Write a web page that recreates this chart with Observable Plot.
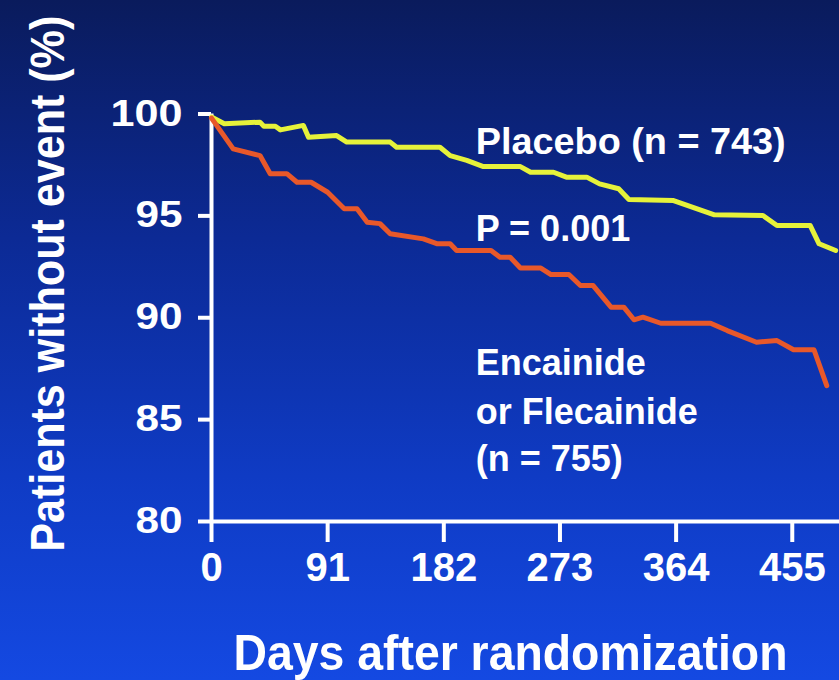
<!DOCTYPE html>
<html>
<head>
<meta charset="utf-8">
<script src="https://cdn.jsdelivr.net/npm/d3@7"></script>
<script src="https://cdn.jsdelivr.net/npm/@observablehq/plot@0.6"></script>
<style>
  html, body { margin: 0; padding: 0; }
  body { width: 839px; height: 680px; overflow: hidden;
         background: linear-gradient(to bottom, #0a1b5c 0%, #0c2a95 35%, #0f3bc4 70%, #1449e2 100%); }
  #chart svg { display: block; }
</style>
</head>
<body>
<div id="chart"></div>
<script>
// ---- data ----
const xTicks = [0, 91, 182, 273, 364, 455];
const yTicks = [80, 85, 90, 95, 100];

const placeboDays = [0, 10, 38, 41, 50, 54, 72, 76, 98, 106, 140, 145, 179, 187, 200, 213, 242, 250, 268, 278, 294, 304, 319, 327, 362, 394, 432, 443, 469, 476, 489];
const placeboPct  = [99.85, 99.52, 99.6, 99.4, 99.4, 99.22, 99.44, 98.86, 98.94, 98.62, 98.62, 98.37, 98.37, 97.96, 97.72, 97.42, 97.42, 97.14, 97.14, 96.9, 96.9, 96.57, 96.33, 95.8, 95.75, 95.05, 95.02, 94.53, 94.53, 93.63, 93.3];

const drugDays = [0, 17, 38, 46, 59, 67, 78, 91, 104, 114, 122, 132, 140, 166, 177, 187, 192, 219, 226, 234, 242, 258, 266, 280, 289, 299, 313, 323, 331, 338, 352, 391, 404, 427, 443, 456, 472, 482];
const drugPct  = [99.8, 98.29, 97.96, 97.07, 97.07, 96.65, 96.65, 96.16, 95.35, 95.35, 94.69, 94.62, 94.12, 93.87, 93.63, 93.63, 93.3, 93.3, 92.97, 92.97, 92.44, 92.44, 92.12, 92.12, 91.58, 91.58, 90.52, 90.52, 89.9, 90.03, 89.73, 89.73, 89.37, 88.8, 88.88, 88.43, 88.43, 86.67];

const yTitle = "Patients without event (%)";
const xTitle = "Days after randomization";
const placeboLabel = "Placebo (n = 743)";
const pLabel = "P = 0.001";
const drugLabelLines = ["Encainide", "or Flecainide", "(n = 755)"];

// ---- tables ----
const placebo = placeboDays.map((d, i) => ({day: d, pct: placeboPct[i]}));
const drug = drugDays.map((d, i) => ({day: d, pct: drugPct[i]}));

const font = "'Liberation Sans', Arial, Helvetica, sans-serif";
const yellow = "#e6f23a";
const red = "#e8582a";

const chart = Plot.plot({
  width: 839,
  height: 680,
  marginLeft: 211,
  marginRight: 0,
  marginTop: 113.5,
  marginBottom: 159,
  style: {background: "transparent", color: "white", fontFamily: font, fontWeight: "bold", overflow: "visible"},
  x: {domain: [0, 492]},
  y: {domain: [80, 100]},
  marks: [
    Plot.axisX({ticks: xTicks, tickSize: 21, tickPadding: 10, fontSize: 40, strokeWidth: 4, stroke: "white", fill: "white", label: null, tickFormat: d => String(d)}),
    Plot.axisY({ticks: yTicks, tickSize: 13, tickPadding: 16, fontSize: 36, strokeWidth: 4, stroke: "white", fill: "white", label: null, tickFormat: d => String(d)}),
    Plot.ruleY([80], {stroke: "white", strokeWidth: 4}),
    Plot.ruleX([0], {y1: 80, y2: 100, stroke: "white", strokeWidth: 4}),
    Plot.line(placebo, {x: "day", y: "pct", stroke: yellow, strokeWidth: 5, strokeLinejoin: "round"}),
    Plot.line(drug, {x: "day", y: "pct", stroke: red, strokeWidth: 5, strokeLinejoin: "round"}),
    Plot.text([placeboLabel], {x: 207, y: 98.05, text: d => d, textAnchor: "start", lineAnchor: "bottom", fontSize: 36, fill: "white", fontWeight: "bold"}),
    Plot.text([pLabel], {x: 207, y: 93.76, text: d => d, textAnchor: "start", lineAnchor: "bottom", fontSize: 36, fill: "white", fontWeight: "bold"}),
    Plot.text(drugLabelLines, {x: 207, y: (d, i) => [87.17, 84.8, 82.5][i], text: d => d, textAnchor: "start", lineAnchor: "bottom", fontSize: 36, fill: "white", fontWeight: "bold"}),
    Plot.text([yTitle], {frameAnchor: "left", dx: -148, dy: -34, rotate: -90, text: d => d, textAnchor: "middle", lineAnchor: "bottom", fontSize: 48, fill: "white", fontWeight: "bold"}),
    Plot.text([xTitle], {frameAnchor: "bottom", dx: -15, dy: 148, text: d => d, textAnchor: "middle", lineAnchor: "bottom", fontSize: 50, fill: "white", fontWeight: "bold"})
  ]
});

// fit text widths to the reference
const fitWidths = new Map([
  [yTitle, 536], [xTitle, 554], [placeboLabel, 310],
  ["100", 72], ["95", 47], ["90", 47], ["85", 47], ["80", 47]
]);
d3.select(chart).selectAll("text").each(function() {
  const t = this.textContent;
  if (fitWidths.has(t)) {
    this.setAttribute("textLength", fitWidths.get(t));
    this.setAttribute("lengthAdjust", "spacingAndGlyphs");
  }
});

document.getElementById("chart").appendChild(chart);
</script>
</body>
</html>
